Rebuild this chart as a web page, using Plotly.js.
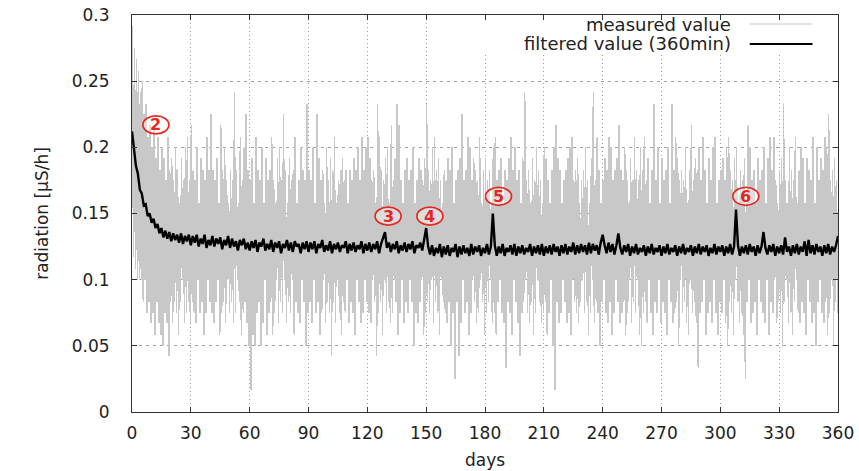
<!DOCTYPE html>
<html>
<head>
<meta charset="utf-8">
<script src="https://cdn.plot.ly/plotly-3.0.1.min.js"></script>
<style>
  html, body { margin: 0; padding: 0; background: #ffffff; }
  #chart { width: 859px; height: 471px; }
  #chart .scatterlayer .trace:first-child path.js-line { shape-rendering: crispEdges; }
</style>
</head>
<body>
<div id="chart"></div>
<script>
// ---- data ----
// daily peak of the measured value [uSv/h], day 0 .. 359
const measuredHigh = [
  0.292,0.275,0.267,0.258,0.242,0.250,0.225,0.233,0.208,0.217,
  0.200,0.217,0.192,0.208,0.183,0.200,0.192,0.175,0.208,0.183,
  0.192,0.175,0.200,0.183,0.158,0.192,0.175,0.200,0.208,0.175,
  0.217,0.183,0.175,0.200,0.158,0.192,0.183,0.175,0.208,0.183,
  0.225,0.183,0.175,0.192,0.158,0.217,0.183,0.200,0.175,0.158,
  0.183,0.175,0.242,0.183,0.158,0.208,0.175,0.200,0.225,0.183,
  0.175,0.192,0.158,0.208,0.183,0.175,0.200,0.158,0.192,0.175,
  0.183,0.208,0.175,0.158,0.192,0.200,0.175,0.225,0.183,0.158,
  0.192,0.175,0.183,0.208,0.158,0.175,0.200,0.183,0.175,0.233,
  0.183,0.175,0.200,0.158,0.225,0.192,0.175,0.183,0.158,0.200,
  0.175,0.192,0.183,0.208,0.158,0.175,0.183,0.192,0.175,0.183,
  0.158,0.183,0.175,0.192,0.183,0.200,0.175,0.208,0.183,0.200,
  0.208,0.192,0.175,0.183,0.158,0.233,0.208,0.183,0.175,0.192,
  0.200,0.158,0.217,0.175,0.192,0.233,0.217,0.175,0.158,0.183,
  0.192,0.175,0.183,0.200,0.158,0.175,0.192,0.183,0.175,0.192,
  0.233,0.183,0.175,0.200,0.208,0.183,0.192,0.175,0.158,0.183,
  0.175,0.192,0.183,0.200,0.158,0.175,0.183,0.192,0.225,0.175,
  0.183,0.208,0.200,0.175,0.192,0.183,0.175,0.208,0.158,0.183,
  0.192,0.175,0.183,0.158,0.200,0.208,0.175,0.183,0.192,0.158,
  0.183,0.175,0.192,0.208,0.183,0.200,0.175,0.183,0.158,0.192,
  0.242,0.175,0.183,0.158,0.192,0.175,0.200,0.183,0.175,0.158,
  0.200,0.192,0.175,0.158,0.183,0.200,0.217,0.192,0.183,0.158,
  0.175,0.183,0.192,0.200,0.208,0.175,0.183,0.192,0.158,0.175,
  0.183,0.200,0.175,0.158,0.192,0.242,0.175,0.208,0.183,0.158,
  0.175,0.192,0.183,0.208,0.200,0.175,0.183,0.192,0.217,0.183,
  0.175,0.200,0.183,0.158,0.192,0.175,0.208,0.183,0.175,0.200,
  0.183,0.208,0.175,0.192,0.158,0.183,0.233,0.175,0.200,0.158,
  0.192,0.175,0.183,0.200,0.158,0.233,0.183,0.208,0.192,0.175,
  0.183,0.175,0.200,0.158,0.183,0.217,0.175,0.192,0.183,0.200,
  0.175,0.208,0.183,0.158,0.192,0.175,0.200,0.208,0.158,0.175,
  0.183,0.192,0.175,0.200,0.208,0.183,0.175,0.192,0.200,0.158,
  0.183,0.175,0.192,0.158,0.217,0.200,0.175,0.183,0.158,0.192,
  0.175,0.183,0.200,0.158,0.192,0.208,0.183,0.208,0.175,0.158,
  0.183,0.192,0.233,0.175,0.158,0.200,0.183,0.175,0.208,0.158,
  0.183,0.200,0.192,0.158,0.192,0.183,0.175,0.208,0.158,0.200,
  0.175,0.192,0.183,0.208,0.200,0.225,0.175,0.183,0.192,0.175
];
// daily trough of the measured value [uSv/h], day 0 .. 359
const measuredLow = [
  0.117,0.108,0.100,0.100,0.100,0.083,0.100,0.075,0.083,0.067,
  0.075,0.058,0.083,0.067,0.058,0.050,0.075,0.067,0.042,0.083,
  0.067,0.083,0.075,0.058,0.083,0.100,0.067,0.075,0.083,0.067,
  0.083,0.075,0.067,0.100,0.075,0.083,0.058,0.075,0.100,0.083,
  0.075,0.067,0.083,0.100,0.058,0.075,0.083,0.067,0.100,0.075,
  0.083,0.067,0.075,0.100,0.083,0.058,0.075,0.083,0.067,0.050,
  0.017,0.058,0.050,0.075,0.083,0.050,0.067,0.100,0.058,0.075,
  0.083,0.058,0.075,0.100,0.067,0.083,0.075,0.100,0.067,0.083,
  0.075,0.100,0.058,0.083,0.075,0.067,0.100,0.083,0.050,0.075,
  0.083,0.067,0.100,0.075,0.083,0.058,0.075,0.100,0.067,0.083,
  0.075,0.042,0.083,0.067,0.100,0.075,0.058,0.083,0.075,0.100,
  0.067,0.083,0.075,0.058,0.100,0.083,0.067,0.075,0.100,0.083,
  0.075,0.067,0.100,0.083,0.042,0.075,0.083,0.058,0.100,0.075,
  0.083,0.067,0.075,0.100,0.083,0.058,0.075,0.100,0.067,0.083,
  0.075,0.100,0.083,0.050,0.075,0.067,0.083,0.100,0.058,0.075,
  0.083,0.075,0.100,0.067,0.083,0.075,0.058,0.100,0.083,0.075,
  0.067,0.083,0.050,0.075,0.025,0.083,0.042,0.067,0.100,0.075,
  0.083,0.058,0.075,0.100,0.083,0.067,0.075,0.100,0.083,0.058,
  0.075,0.083,0.100,0.067,0.075,0.058,0.083,0.100,0.075,0.067,
  0.033,0.083,0.075,0.058,0.100,0.083,0.067,0.042,0.075,0.083,
  0.100,0.075,0.067,0.083,0.058,0.075,0.100,0.083,0.067,0.075,
  0.083,0.058,0.075,0.100,0.050,0.017,0.083,0.067,0.075,0.100,
  0.083,0.067,0.075,0.058,0.100,0.083,0.075,0.067,0.083,0.100,
  0.075,0.083,0.058,0.075,0.100,0.067,0.083,0.075,0.050,0.083,
  0.100,0.075,0.067,0.083,0.058,0.075,0.100,0.083,0.067,0.075,
  0.083,0.058,0.075,0.100,0.067,0.083,0.075,0.100,0.058,0.050,
  0.075,0.083,0.067,0.100,0.075,0.058,0.083,0.075,0.100,0.067,
  0.083,0.075,0.058,0.100,0.083,0.067,0.075,0.083,0.050,0.100,
  0.075,0.083,0.067,0.058,0.100,0.075,0.083,0.067,0.033,0.075,
  0.083,0.100,0.058,0.075,0.083,0.067,0.100,0.075,0.058,0.083,
  0.075,0.100,0.067,0.050,0.083,0.075,0.058,0.100,0.083,0.067,
  0.075,0.058,0.025,0.083,0.100,0.067,0.075,0.083,0.058,0.100,
  0.083,0.075,0.067,0.100,0.058,0.083,0.075,0.100,0.067,0.083,
  0.075,0.050,0.083,0.100,0.067,0.075,0.058,0.083,0.100,0.075,
  0.067,0.083,0.075,0.058,0.100,0.083,0.067,0.075,0.050,0.083,
  0.100,0.075,0.067,0.083,0.058,0.075,0.100,0.050,0.083,0.075
];
// filtered value (360 min), one value per day, day 0 .. 360
const filteredValue = [
  0.212,0.201,0.186,0.180,0.168,0.165,0.156,0.157,0.148,0.150,
  0.143,0.146,0.139,0.142,0.135,0.139,0.132,0.137,0.131,0.136,
  0.129,0.135,0.130,0.134,0.128,0.135,0.127,0.133,0.129,0.134,
  0.126,0.133,0.128,0.134,0.125,0.131,0.127,0.134,0.124,0.130,
  0.126,0.133,0.125,0.131,0.127,0.132,0.123,0.130,0.126,0.133,
  0.124,0.131,0.125,0.129,0.122,0.130,0.126,0.131,0.123,0.128,
  0.122,0.129,0.124,0.130,0.121,0.128,0.125,0.131,0.122,0.127,
  0.123,0.130,0.121,0.128,0.124,0.129,0.120,0.127,0.124,0.130,
  0.122,0.128,0.121,0.129,0.125,0.127,0.120,0.128,0.123,0.129,
  0.121,0.128,0.123,0.129,0.120,0.127,0.124,0.130,0.121,0.126,
  0.122,0.129,0.120,0.127,0.123,0.128,0.121,0.126,0.124,0.129,
  0.120,0.127,0.122,0.128,0.121,0.126,0.123,0.129,0.120,0.127,
  0.122,0.128,0.121,0.127,0.123,0.129,0.120,0.127,0.131,0.136,
  0.124,0.128,0.121,0.127,0.123,0.129,0.120,0.126,0.122,0.128,
  0.121,0.127,0.123,0.129,0.120,0.126,0.124,0.128,0.122,0.131,
  0.139,0.125,0.119,0.126,0.118,0.124,0.120,0.127,0.117,0.125,
  0.119,0.126,0.118,0.124,0.121,0.127,0.117,0.125,0.119,0.126,
  0.120,0.124,0.118,0.127,0.119,0.125,0.121,0.126,0.118,0.124,
  0.120,0.127,0.119,0.125,0.150,0.126,0.118,0.125,0.120,0.127,
  0.118,0.124,0.121,0.126,0.119,0.127,0.118,0.125,0.120,0.126,
  0.119,0.124,0.121,0.127,0.118,0.125,0.120,0.126,0.119,0.127,
  0.118,0.125,0.120,0.126,0.119,0.127,0.121,0.125,0.118,0.126,
  0.120,0.127,0.119,0.125,0.121,0.128,0.119,0.126,0.120,0.127,
  0.121,0.126,0.119,0.128,0.120,0.127,0.122,0.126,0.119,0.128,
  0.134,0.126,0.120,0.128,0.121,0.127,0.119,0.126,0.135,0.124,
  0.119,0.126,0.121,0.127,0.118,0.125,0.120,0.127,0.119,0.124,
  0.121,0.126,0.118,0.125,0.120,0.127,0.119,0.124,0.121,0.126,
  0.118,0.125,0.120,0.127,0.119,0.124,0.121,0.126,0.118,0.125,
  0.120,0.127,0.119,0.124,0.121,0.126,0.118,0.125,0.120,0.127,
  0.119,0.125,0.121,0.126,0.118,0.124,0.120,0.127,0.119,0.125,
  0.121,0.126,0.118,0.125,0.120,0.127,0.119,0.125,0.153,0.126,
  0.118,0.125,0.120,0.126,0.119,0.127,0.121,0.125,0.118,0.126,
  0.120,0.125,0.136,0.124,0.119,0.126,0.121,0.127,0.118,0.125,
  0.120,0.126,0.119,0.132,0.121,0.125,0.118,0.126,0.120,0.127,
  0.119,0.125,0.121,0.129,0.118,0.130,0.120,0.126,0.119,0.127,
  0.121,0.125,0.118,0.126,0.120,0.127,0.119,0.125,0.121,0.126,
  0.133
];
const xTickValues = [0,30,60,90,120,150,180,210,240,270,300,330,360];
const xTickLabels = ['0','30','60','90','120','150','180','210','240','270','300','330','360'];
const yTickValues = [0,0.05,0.1,0.15,0.2,0.25,0.3];
const yTickLabels = ['0','0.05','0.1','0.15','0.2','0.25','0.3'];
// event markers (circled numbers) and where they sit
const eventLabels = ['2','3','4','5','6'];
const eventDays   = [12.2, 130.6, 151.9, 186.9, 313.0];
const eventValues = [0.217, 0.148, 0.148, 0.163, 0.163];
const legendNames = ['measured value', 'filtered value (360min)'];

// ---- build traces ----
const measX = [], measY = [];
for (let d = 0; d < measuredHigh.length; d++) {
  measX.push(d + 0.25); measY.push(measuredHigh[d]);
  measX.push(d + 0.75); measY.push(measuredLow[d]);
}
const filtX = filteredValue.map((_, i) => i);

const GRAY = '#c8c8c8';
const RED = '#e5281f';
const FONT = 'DejaVu Sans, Liberation Sans, sans-serif';

const traces = [
  { type: 'scatter', mode: 'lines', name: legendNames[0], x: measX, y: measY,
    line: { color: GRAY, width: 1.5 }, hoverinfo: 'skip' },
  { type: 'scatter', mode: 'lines', name: legendNames[1], x: filtX, y: filteredValue,
    line: { color: '#000000', width: 2.4 }, hoverinfo: 'skip' }
];

const shapes = [
  // opaque key box (covers the grid only)
  { type: 'rect', xref: 'x', yref: 'y', x0: 175, x1: 359.3, y0: 0.2705, y1: 0.2993,
    fillcolor: '#ffffff', line: { width: 0 }, layer: 'between' },
  // key samples
  { type: 'line', xref: 'x', yref: 'y', x0: 315, x1: 347, y0: 0.2932, y1: 0.2932,
    line: { color: GRAY, width: 1.2 }, layer: 'above' },
  { type: 'line', xref: 'x', yref: 'y', x0: 315, x1: 347, y0: 0.2781, y1: 0.2781,
    line: { color: '#000000', width: 2 }, layer: 'above' }
];
const annotations = [
  { xref: 'x', yref: 'y', x: 306.5, y: 0.2932, xanchor: 'right', yanchor: 'middle',
    text: legendNames[0], showarrow: false, font: { family: FONT, size: 18, color: '#222' } },
  { xref: 'x', yref: 'y', x: 306.5, y: 0.2781, xanchor: 'right', yanchor: 'middle',
    text: legendNames[1], showarrow: false, font: { family: FONT, size: 18, color: '#222' } }
];
eventLabels.forEach((lab, i) => {
  shapes.push({ type: 'circle', xref: 'x', yref: 'y',
    xsizemode: 'pixel', ysizemode: 'pixel', xanchor: eventDays[i], yanchor: eventValues[i],
    x0: -13, x1: 13, y0: -9, y1: 9,
    line: { color: RED, width: 1.7 }, fillcolor: 'rgba(255,255,255,0.4)', layer: 'above' });
  annotations.push({ xref: 'x', yref: 'y', x: eventDays[i], y: eventValues[i],
    text: '<b>' + lab + '</b>', showarrow: false, xanchor: 'center', yanchor: 'middle',
    font: { family: FONT, size: 16, color: RED } });
});

const layout = {
  width: 859, height: 471,
  margin: { l: 132, r: 21, t: 15, b: 59 },
  paper_bgcolor: '#ffffff', plot_bgcolor: '#ffffff',
  showlegend: false,
  font: { family: FONT, size: 17, color: '#222' },
  xaxis: {
    range: [0, 360], tickmode: 'array', tickvals: xTickValues, ticktext: xTickLabels,
    ticks: 'inside', ticklen: 5, tickcolor: '#333', tickwidth: 1,
    showline: true, linecolor: '#333', linewidth: 1, mirror: 'allticks',
    showgrid: true, gridcolor: '#a0a0a0', gridwidth: 1, griddash: '1px,3px',
    zeroline: false, ticklabelstandoff: 6,
    tickfont: { family: FONT, size: 17, color: '#222' },
    title: { text: 'days', font: { family: FONT, size: 17, color: '#222' }, standoff: 11 }
  },
  yaxis: {
    range: [0, 0.3], tickmode: 'array', tickvals: yTickValues, ticktext: yTickLabels,
    ticks: 'inside', ticklen: 5, tickcolor: '#333', tickwidth: 1,
    showline: true, linecolor: '#333', linewidth: 1, mirror: 'allticks',
    showgrid: true, gridcolor: '#a0a0a0', gridwidth: 1, griddash: '3px,4px',
    zeroline: false, ticklabelstandoff: 18,
    tickfont: { family: FONT, size: 17, color: '#222' },
    title: { text: 'radiation [μS/h]', font: { family: FONT, size: 17, color: '#222' }, standoff: 18 }
  },
  shapes: shapes,
  annotations: annotations
};

Plotly.newPlot('chart', traces, layout, { staticPlot: true, displayModeBar: false });
</script>
</body>
</html>
